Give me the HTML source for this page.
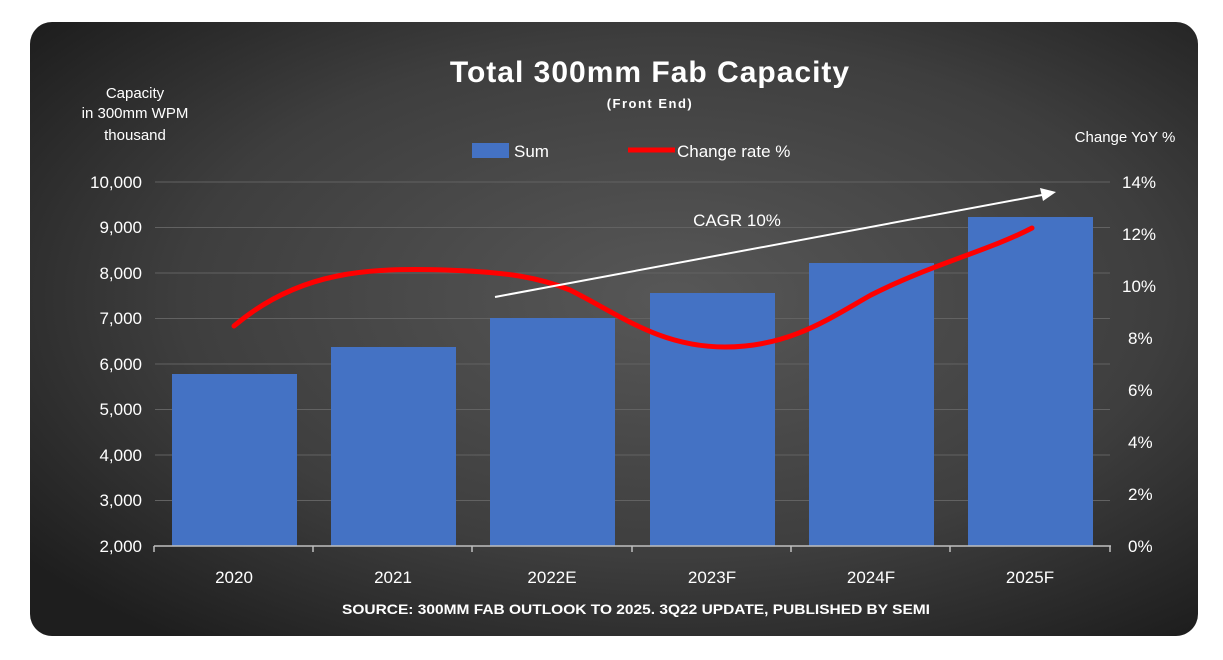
<!DOCTYPE html>
<html><head><meta charset="utf-8"><style>
html,body{margin:0;padding:0;background:#fff;}
svg{display:block;font-family:"Liberation Sans",sans-serif;}
</style></head><body>
<svg width="1223" height="660" viewBox="0 0 1223 660" xmlns="http://www.w3.org/2000/svg">
<defs>
<radialGradient id="bg" cx="0.55" cy="0.45" r="0.7">
<stop offset="0" stop-color="#575757"/>
<stop offset="0.6" stop-color="#3e3e3e"/>
<stop offset="1" stop-color="#1e1e1e"/>
</radialGradient>
</defs>
<rect x="30" y="22" width="1168" height="614" rx="22" fill="url(#bg)"/>
<g stroke="#626262" stroke-width="1">
<line x1="155" x2="1110" y1="182" y2="182"/>
<line x1="155" x2="1110" y1="227.5" y2="227.5"/>
<line x1="155" x2="1110" y1="273" y2="273"/>
<line x1="155" x2="1110" y1="318.5" y2="318.5"/>
<line x1="155" x2="1110" y1="364" y2="364"/>
<line x1="155" x2="1110" y1="409.5" y2="409.5"/>
<line x1="155" x2="1110" y1="455" y2="455"/>
<line x1="155" x2="1110" y1="500.5" y2="500.5"/>
</g>
<g fill="#4472c4">
<rect x="172" y="374" width="125" height="172"/>
<rect x="331" y="347" width="125" height="199"/>
<rect x="490" y="318" width="125" height="228"/>
<rect x="650" y="293" width="125" height="253"/>
<rect x="809" y="263" width="125" height="283"/>
<rect x="968" y="217" width="125" height="329"/>
</g>
<g stroke="#bfbfbf" stroke-width="1.5">
<line x1="154" x2="1111" y1="546" y2="546"/>
<line x1="154" x2="154" y1="546" y2="552"/>
<line x1="313" x2="313" y1="546" y2="552"/>
<line x1="472" x2="472" y1="546" y2="552"/>
<line x1="632" x2="632" y1="546" y2="552"/>
<line x1="791" x2="791" y1="546" y2="552"/>
<line x1="950" x2="950" y1="546" y2="552"/>
<line x1="1110" x2="1110" y1="546" y2="552"/>
</g>
<path d="M234,326 C300,270 370,268 445,270 C510,272 540,278 570,290 C620,315 660,347 725,347 C790,347 830,318 871,295 C930,265 990,250 1032,228" fill="none" stroke="#ff0000" stroke-width="5" stroke-linecap="round"/>
<line x1="495" y1="297" x2="1042" y2="195" stroke="#fff" stroke-width="2"/>
<polygon points="1056,192 1040,188 1043,201" fill="#fff"/>
<g fill="#fff">
<text x="650" y="82" text-anchor="middle" font-size="30" font-weight="bold" letter-spacing="1">Total 300mm Fab Capacity</text>
<text x="650" y="108" text-anchor="middle" font-size="13" font-weight="bold" letter-spacing="1.5">(Front End)</text>
<rect x="472" y="143" width="37" height="15" fill="#4472c4"/>
<text x="514" y="157" font-size="17">Sum</text>
<line x1="628" x2="675" y1="150" y2="150" stroke="#ff0000" stroke-width="5"/>
<text x="677" y="157" font-size="17">Change rate %</text>
<text x="737" y="226" text-anchor="middle" font-size="17">CAGR 10%</text>
<g font-size="15" text-anchor="middle">
<text x="135" y="98">Capacity</text>
<text x="135" y="118">in 300mm WPM</text>
<text x="135" y="140">thousand</text>
</g>
<text x="1125" y="142" text-anchor="middle" font-size="15">Change YoY %</text>
<g font-size="17" text-anchor="end">
<text x="142" y="188">10,000</text>
<text x="142" y="233">9,000</text>
<text x="142" y="279">8,000</text>
<text x="142" y="324">7,000</text>
<text x="142" y="370">6,000</text>
<text x="142" y="415">5,000</text>
<text x="142" y="461">4,000</text>
<text x="142" y="506">3,000</text>
<text x="142" y="552">2,000</text>
</g>
<g font-size="17">
<text x="1122" y="188">14%</text>
<text x="1122" y="240">12%</text>
<text x="1122" y="292">10%</text>
<text x="1128" y="344">8%</text>
<text x="1128" y="396">6%</text>
<text x="1128" y="448">4%</text>
<text x="1128" y="500">2%</text>
<text x="1128" y="552">0%</text>
</g>
<g font-size="17" text-anchor="middle">
<text x="234" y="583">2020</text>
<text x="393" y="583">2021</text>
<text x="552" y="583">2022E</text>
<text x="712" y="583">2023F</text>
<text x="871" y="583">2024F</text>
<text x="1030" y="583">2025F</text>
</g>
<text x="342" y="614" font-size="14" font-weight="bold" textLength="588" lengthAdjust="spacingAndGlyphs">SOURCE: 300MM FAB OUTLOOK TO 2025. 3Q22 UPDATE, PUBLISHED BY SEMI</text>
</g>
</svg>
</body></html>
